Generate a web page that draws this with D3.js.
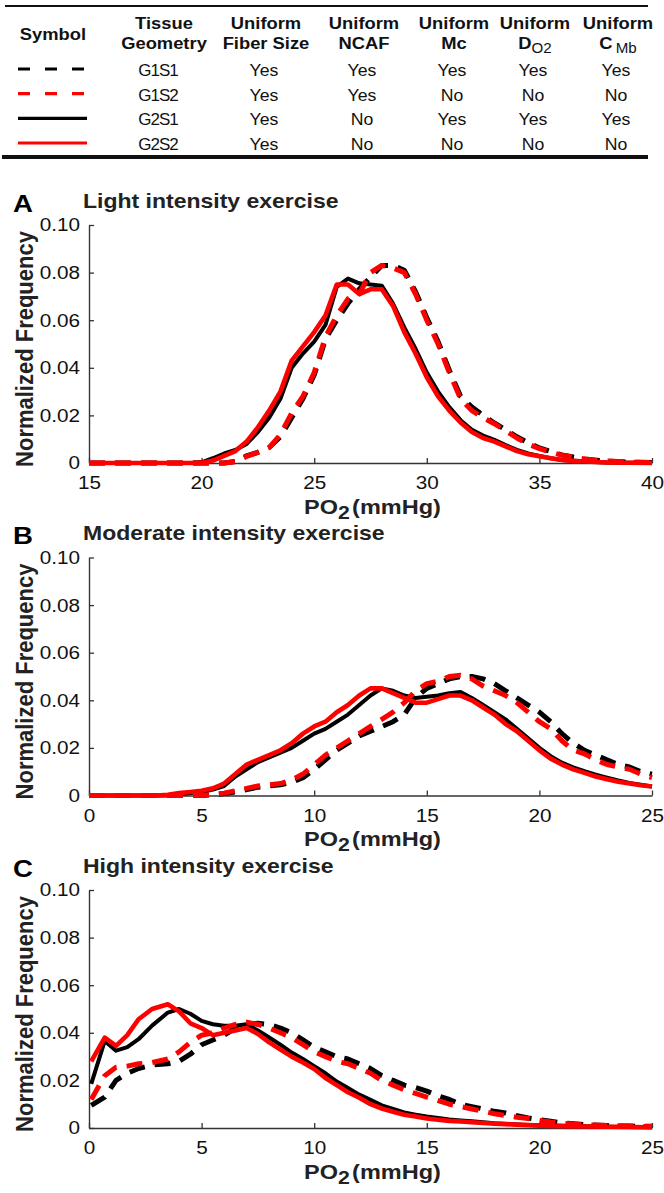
<!DOCTYPE html>
<html lang="en">
<head>
<meta charset="UTF-8">
<title>PO2 distributions</title>
<script src="https://cdn.jsdelivr.net/npm/d3@7"></script>
<style>
  body { margin: 0; background: #fff; }
  svg { display: block; font-family: 'Liberation Sans', Arial, sans-serif; }
</style>
</head>
<body>
<svg id="chart" width="664" height="1193"></svg>
<script>
// ---------- table data
const seriesNames = ["G1S1", "G1S2", "G2S1", "G2S2"];
const seriesColor = ["#000", "#f00", "#000", "#f00"];
const seriesDashed = [true, true, false, false];
const colKeys = ["symbol", "geom", "fiber", "ncaf", "mc", "do2", "cmb"];
const tableRows = [
    ["Yes", "Yes", "Yes", "Yes", "Yes"],
    ["Yes", "Yes", "No", "No", "No"],
    ["Yes", "No", "Yes", "Yes", "Yes"],
    ["Yes", "No", "No", "No", "No"]
];

// ---------- panel A: light intensity
const xA = [15, 19.5, 20, 20.5, 21, 21.5, 22, 22.5, 23, 23.5, 24, 24.5, 25, 25.5, 26, 26.5, 27, 27.5, 28, 28.5,
    29, 29.5, 30, 30.5, 31, 31.5, 32, 32.5, 33, 33.5, 34, 34.5, 35, 35.5, 36, 36.5, 37, 37.5, 38, 39, 40];
const g1s1A = [0, 0, 0, 0, 0, 0.0007, 0.003, 0.0045, 0.0065, 0.011, 0.019, 0.027, 0.037, 0.052, 0.060, 0.067, 0.073, 0.078, 0.083, 0.083,
    0.081, 0.072, 0.061, 0.051, 0.039, 0.028, 0.0235, 0.020, 0.0168, 0.014, 0.011, 0.0085, 0.0063, 0.0048, 0.0034, 0.0025, 0.0017, 0.0012, 0.0008, 0.0004, 0.0002];
const g1s2A = [0, 0, 0, 0, 0, 0.0005, 0.0028, 0.0045, 0.0065, 0.012, 0.021, 0.028, 0.038, 0.053, 0.062, 0.069, 0.071, 0.080, 0.083, 0.082,
    0.080, 0.071, 0.060, 0.050, 0.038, 0.027, 0.022, 0.019, 0.0165, 0.0135, 0.0105, 0.008, 0.006, 0.0046, 0.0033, 0.0024, 0.0017, 0.0012, 0.0008, 0.0004, 0.0002];
const g2s1A = [0, 0, 0.0003, 0.002, 0.004, 0.0055, 0.008, 0.013, 0.019, 0.027, 0.040, 0.046, 0.051, 0.058, 0.074, 0.0775, 0.0755, 0.075, 0.0745, 0.067,
    0.057, 0.048, 0.038, 0.030, 0.0235, 0.018, 0.014, 0.0115, 0.0097, 0.0075, 0.0055, 0.004, 0.003, 0.002, 0.0013, 0.0009, 0.0006, 0.0004, 0.0002, 0.0001, 0];
const g2s2A = [0, 0, 0, 0.001, 0.003, 0.005, 0.009, 0.015, 0.022, 0.030, 0.043, 0.049, 0.055, 0.062, 0.075, 0.075, 0.071, 0.073, 0.073, 0.066,
    0.055, 0.046, 0.036, 0.028, 0.022, 0.017, 0.013, 0.0105, 0.009, 0.007, 0.005, 0.0037, 0.0028, 0.002, 0.0013, 0.0009, 0.0006, 0.0004, 0.0002, 0.0001, 0];

// ---------- panel B: moderate intensity
const xB = [0, 3, 3.5, 4, 4.5, 5, 5.5, 6, 6.5, 7, 7.5, 8, 8.5, 9, 9.5, 10, 10.5, 11, 11.5, 12, 12.5, 13, 13.5,
    14, 14.5, 15, 15.5, 16, 16.5, 17, 17.5, 18, 18.5, 19, 19.5, 20, 20.5, 21, 21.5, 22, 22.5, 23, 23.5, 24, 24.5, 25];
const g1s1B = [0, 0, 0, 0, 0, 0, 0.0003, 0.0008, 0.0015, 0.0025, 0.0035, 0.004, 0.0045, 0.0055, 0.0075, 0.011, 0.015, 0.019, 0.022, 0.025, 0.027, 0.029, 0.031,
    0.034, 0.041, 0.045, 0.047, 0.049, 0.050, 0.050, 0.049, 0.047, 0.044, 0.041, 0.038, 0.035, 0.031, 0.026, 0.022, 0.019, 0.017, 0.015, 0.013, 0.012, 0.010, 0.009];
const g1s2B = [0, 0, 0, 0, 0, 0, 0.0005, 0.001, 0.002, 0.003, 0.004, 0.0045, 0.005, 0.0065, 0.009, 0.013, 0.017, 0.020, 0.023, 0.026, 0.029, 0.032, 0.035,
    0.039, 0.044, 0.047, 0.048, 0.050, 0.0505, 0.049, 0.046, 0.044, 0.042, 0.039, 0.035, 0.031, 0.028, 0.023, 0.019, 0.0175, 0.015, 0.013, 0.012, 0.011, 0.009, 0.0075];
const g2s1B = [0, 0, 0, 0.0005, 0.001, 0.0015, 0.0025, 0.004, 0.008, 0.011, 0.014, 0.016, 0.018, 0.020, 0.023, 0.026, 0.028, 0.031, 0.034, 0.038, 0.042, 0.045, 0.044,
    0.042, 0.041, 0.0415, 0.042, 0.043, 0.0435, 0.041, 0.038, 0.035, 0.032, 0.028, 0.024, 0.020, 0.0165, 0.0138, 0.0118, 0.0102, 0.0088, 0.0075, 0.0063, 0.0053, 0.0045, 0.0038];
const g2s2B = [0, 0, 0.0003, 0.001, 0.0015, 0.002, 0.003, 0.005, 0.009, 0.013, 0.015, 0.017, 0.019, 0.022, 0.026, 0.029, 0.031, 0.035, 0.038, 0.042, 0.045, 0.045, 0.043,
    0.041, 0.039, 0.039, 0.0405, 0.042, 0.042, 0.040, 0.037, 0.034, 0.030, 0.027, 0.023, 0.019, 0.0155, 0.013, 0.011, 0.0095, 0.008, 0.0068, 0.0058, 0.005, 0.0043, 0.0038];

// ---------- panel C: high intensity
const xC = [0.1, 0.7, 1.2, 1.7, 2.2, 2.8, 3.5, 4, 4.5, 5, 5.5, 6, 6.5, 7, 7.5, 8, 8.5, 9, 9.5, 10, 10.5, 11, 11.5,
    12, 12.5, 13, 13.5, 14, 14.5, 15, 15.5, 16, 16.5, 17, 17.5, 18, 18.5, 19, 19.5, 20, 20.5, 21, 22, 23, 24, 25];
const g1s1C = [0.0095, 0.013, 0.020, 0.023, 0.025, 0.0265, 0.027, 0.028, 0.031, 0.035, 0.037, 0.039, 0.042, 0.0435, 0.044, 0.0435, 0.042, 0.040, 0.037, 0.034, 0.032, 0.030, 0.029,
    0.027, 0.025, 0.022, 0.020, 0.018, 0.017, 0.0155, 0.0135, 0.012, 0.010, 0.009, 0.008, 0.007, 0.0063, 0.0052, 0.0042, 0.0035, 0.0028, 0.0022, 0.0014, 0.001, 0.0008, 0.0007];
const g1s2C = [0.012, 0.022, 0.0255, 0.026, 0.027, 0.0275, 0.029, 0.032, 0.036, 0.039, 0.040, 0.042, 0.0435, 0.0445, 0.0435, 0.042, 0.040, 0.038, 0.035, 0.032, 0.030, 0.028, 0.027,
    0.025, 0.023, 0.020, 0.018, 0.016, 0.0145, 0.013, 0.0115, 0.010, 0.009, 0.008, 0.007, 0.006, 0.0052, 0.0045, 0.004, 0.0032, 0.0025, 0.002, 0.0014, 0.001, 0.0008, 0.0006];
const g2s1C = [0.0185, 0.0366, 0.0325, 0.034, 0.0373, 0.043, 0.0485, 0.050, 0.048, 0.045, 0.0436, 0.043, 0.043, 0.0436, 0.041, 0.038, 0.035, 0.0317, 0.029, 0.026, 0.023, 0.0195, 0.0168,
    0.014, 0.0118, 0.0095, 0.008, 0.0065, 0.0056, 0.0048, 0.0042, 0.0036, 0.0032, 0.0028, 0.0024, 0.002, 0.0018, 0.0015, 0.0013, 0.0012, 0.001, 0.0009, 0.0007, 0.0005, 0.0004, 0.0003];
const g2s2C = [0.028, 0.038, 0.0345, 0.039, 0.0457, 0.050, 0.052, 0.049, 0.044, 0.042, 0.039, 0.040, 0.041, 0.042, 0.0395, 0.036, 0.033, 0.030, 0.0275, 0.0248, 0.021, 0.018, 0.015,
    0.0127, 0.010, 0.0082, 0.0068, 0.0056, 0.0048, 0.004, 0.0035, 0.003, 0.0027, 0.0024, 0.0021, 0.0018, 0.0016, 0.0014, 0.0012, 0.001, 0.0009, 0.0008, 0.0006, 0.0005, 0.0004, 0.0003];

const yTicks = [0, 0.02, 0.04, 0.06, 0.08, 0.10];
const xTicksA = [15, 20, 25, 30, 35, 40];
const xTicks025 = [0, 5, 10, 15, 20, 25];

const panels = [
    { letter: "A", title: "Light intensity exercise", x: xA, domain: [15, 40], ticks: xTicksA, ys: [g1s1A, g1s2A, g2s1A, g2s2A] },
    { letter: "B", title: "Moderate intensity exercise", x: xB, domain: [0, 25], ticks: xTicks025, ys: [g1s1B, g1s2B, g2s1B, g2s2B] },
    { letter: "C", title: "High intensity exercise", x: xC, domain: [0, 25], ticks: xTicks025, ys: [g1s1C, g1s2C, g2s1C, g2s2C] }
];

const svg = d3.select("#chart");

// text with a bit of horizontal stretch, like the source image
function stext(g, x, y, str, size, bold, anchor, k) {
    k = k || 1;
    return g.append("text")
        .attr("x", x / k).attr("y", y)
        .attr("transform", `scale(${k},1)`)
        .attr("font-size", size)
        .attr("font-weight", bold ? "bold" : "normal")
        .attr("text-anchor", anchor || "start")
        .attr("fill", "#111")
        .text(str);
}

/////////////// TABLE
const tbl = svg.append("g");
const colX = d3.scaleOrdinal().domain(colKeys).range([53, 164, 266, 364, 454, 535, 618]);
const rowY = d3.scalePoint().domain(seriesNames).range([70, 144]);

tbl.append("line").attr("x1", 5).attr("x2", 648).attr("y1", 6).attr("y2", 6)
    .attr("stroke", "#111").attr("stroke-width", 2.2);
tbl.append("line").attr("x1", 2).attr("x2", 648).attr("y1", 157).attr("y2", 157)
    .attr("stroke", "#111").attr("stroke-width", 4);

const hk = 1.08;
stext(tbl, colX("symbol"), 40, "Symbol", 17, true, "middle", hk);
stext(tbl, colX("geom"), 29, "Tissue", 17, true, "middle", hk);
stext(tbl, colX("geom"), 49, "Geometry", 17, true, "middle", hk);
["fiber", "ncaf", "mc", "do2", "cmb"].forEach(c => stext(tbl, colX(c), 29, "Uniform", 17, true, "middle", hk));
stext(tbl, colX("fiber"), 49, "Fiber Size", 17, true, "middle", hk);
stext(tbl, colX("ncaf"), 49, "NCAF", 17, true, "middle", hk);
stext(tbl, colX("mc"), 49, "Mc", 17, true, "middle", hk);
const dT = stext(tbl, colX("do2"), 49, "D", 17, true, "middle", hk);
dT.append("tspan").attr("font-size", 14).attr("font-weight", "normal").attr("dy", 4).text("O2");
const cT = stext(tbl, colX("cmb"), 49, "C", 17, true, "middle", hk);
cT.append("tspan").attr("font-size", 14).attr("font-weight", "normal").attr("dx", 3).attr("dy", 4).text("Mb");

seriesNames.forEach((name, i) => {
    const y = rowY(name);
    tbl.append("line")
        .attr("x1", colX("symbol") - 35).attr("x2", colX("symbol") + 34)
        .attr("y1", y - 1).attr("y2", y - 1)
        .attr("stroke", seriesColor[i])
        .attr("stroke-width", 3.2)
        .attr("stroke-dasharray", seriesDashed[i] ? "12,15" : null);
    stext(tbl, colX("geom") - 6, y + 6, name, 17, false, "middle", 1).attr("letter-spacing", -1);
    tableRows[i].forEach((v, j) => {
        stext(tbl, colX(colKeys[j + 2]) - 2, y + 6, v, 17, false, "middle", 1.04);
    });
});

/////////////// PANELS
const left = 89, right = 652, plotH = 238;
const tk = 1.12;
const drawOrder = [2, 0, 3, 1]; // black solid, black dashed, red solid, red dashed

panels.forEach((p, i) => {
    const top = 225 + i * 332.5;
    const g = svg.append("g");

    const x = d3.scaleLinear().domain(p.domain).range([left, right]);
    const y = d3.scaleLinear().domain([0, 0.1]).range([top + plotH, top]);

    // y axis
    const ya = g.append("g").attr("transform", `translate(${left},0)`)
        .call(d3.axisLeft(y).tickValues(yTicks)
            .tickFormat(d => d === 0 ? "0" : d3.format(".2f")(d))
            .tickSizeInner(-5).tickSizeOuter(0).tickPadding(9));
    // x axis
    const xa = g.append("g").attr("transform", `translate(0,${top + plotH})`)
        .call(d3.axisBottom(x).tickValues(p.ticks)
            .tickSizeInner(-5).tickSizeOuter(0).tickPadding(13));

    [ya, xa].forEach(a => {
        a.select(".domain").attr("stroke", "#333").attr("stroke-width", 1.4);
        a.selectAll(".tick line").attr("stroke", "#333").attr("stroke-width", 1.3);
        a.selectAll("text").attr("font-size", 18.5).attr("fill", "#111")
            .attr("font-family", "'Liberation Sans', Arial, sans-serif")
            .attr("transform", `scale(${tk},1)`);
    });
    ya.selectAll("text").attr("x", -9 / tk);

    // curves
    const line = d3.line().x((d, j) => x(p.x[j])).y(d => y(d));
    drawOrder.forEach(s => {
        g.append("path")
            .datum(p.ys[s])
            .attr("d", line)
            .attr("fill", "none")
            .attr("stroke", seriesColor[s])
            .attr("stroke-width", seriesDashed[s] ? 5 : (seriesColor[s] === "#f00" ? 4.6 : 4))
            .attr("stroke-linejoin", "round")
            .attr("stroke-dasharray", seriesDashed[s] ? "16,10" : null);
    });

    // letter + title
    stext(g, 13, top - 13, p.letter, 24, true, "start", 1.15).attr("fill", "#000");
    stext(g, 83, top - 17, p.title, 20, true, "start", 1.15).attr("fill", "#222");

    // y label
    g.append("text")
        .attr("transform", `translate(${left - 56},${top + plotH / 2 + 5}) rotate(-90) scale(1,1.12)`)
        .attr("text-anchor", "middle")
        .attr("font-size", 22).attr("font-weight", "bold").attr("fill", "#222")
        .text("Normalized Frequency");

    // x label
    const xl = stext(g, (left + right) / 2 + 2, top + plotH + 51, "PO", 21, true, "middle", 1.12)
        .attr("fill", "#222");
    xl.append("tspan").attr("font-size", 19).attr("dy", 5).text("2");
    xl.append("tspan").attr("dy", -5).attr("dx", 2).text("(mmHg)");
});
</script>
</body>
</html>
